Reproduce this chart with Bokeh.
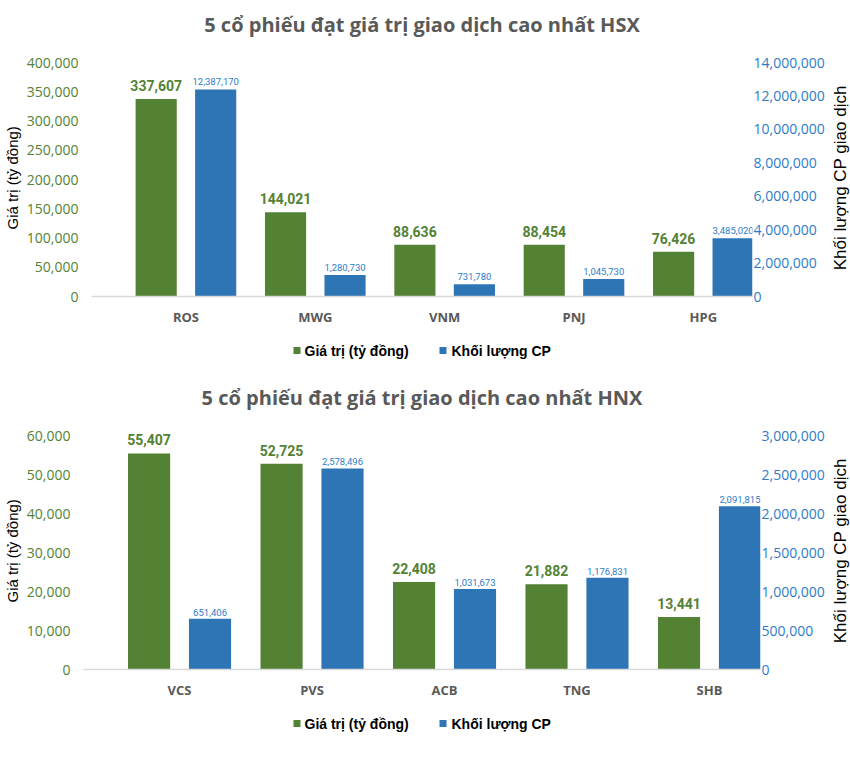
import math
from bokeh.plotting import figure
from bokeh.models import (Range1d, LinearAxis, FixedTicker, NumeralTickFormatter,
                          ColumnDataSource, LabelSet)
from bokeh.layouts import column, row
from bokeh.core.properties import value
from bokeh.embed import file_html
from bokeh.resources import INLINE

# ---- data ----
hsx_title = "5 cổ phiếu đạt giá trị giao dịch cao nhất HSX"
hsx_codes = ["ROS", "MWG", "VNM", "PNJ", "HPG"]
hsx_value = [337607, 144021, 88636, 88454, 76426]
hsx_volume = [12387170, 1280730, 731780, 1045730, 3485020]

hnx_title = "5 cổ phiếu đạt giá trị giao dịch cao nhất HNX"
hnx_codes = ["VCS", "PVS", "ACB", "TNG", "SHB"]
hnx_value = [55407, 52725, 22408, 21882, 13441]
hnx_volume = [651406, 2578496, 1031673, 1176831, 2091815]

series_names = ["Giá trị (tỷ đồng)", "Khối lượng CP"]
left_title = "Giá trị (tỷ đồng)"
right_title = "Khối lượng CP giao dịch"

GREEN = "#548235"
BLUE = "#2E75B6"
BLUE_TXT = "#2E7CC9"
GRAY = "#595959"
TICK_FONT = "Open Sans"
LBL_FONT = "Roboto"
AX_FONT = "Liberation Sans"

FRAME_H = 234        # pixel height between 0 and the top tick
LT_W, RT_W = 22, 22  # side title strips
TOTAL_W = 850


def bare(width, height):
    q = figure(width=width, height=height, output_backend="svg", toolbar_location=None,
               x_range=Range1d(0, width), y_range=Range1d(0, height), min_border=0,
               x_axis_location=None, y_axis_location=None)
    q.outline_line_color = None
    q.xgrid.visible = False
    q.ygrid.visible = False
    return q


def vtitle(width, height, cx, cy, txt, size):
    q = bare(width, height)
    q.text(x=[cx], y=[cy], text=[txt], angle=math.pi / 2, text_align="center",
           text_baseline="middle", text_font=value(AX_FONT), text_font_size=size,
           text_color="#000000")
    return q


def make_chart(title, codes, vals, vols, ymax, ystep, y2max, y2step,
               width, height, border_left, border_right, frame_top, pad, frame_bottom_gap,
               tick_standoff, green_off, blue_off, xr):
    idx = list(range(len(codes)))
    src = ColumnDataSource(dict(
        xg=[i - 0.23 for i in idx], xb=[i + 0.23 for i in idx],
        val=vals, vol=vols,
        val_txt=[f"{v:,}" for v in vals], vol_txt=[f"{v:,}" for v in vols]))

    frame_h = FRAME_H + pad
    p = figure(width=width, height=height, output_backend="svg", toolbar_location=None,
               x_range=Range1d(*xr), y_range=Range1d(0, ymax * frame_h / FRAME_H),
               min_border_left=border_left, min_border_right=border_right,
               min_border_top=frame_top - pad, min_border_bottom=frame_bottom_gap,
               y_axis_location=None, x_axis_location=None)
    p.outline_line_color = None
    p.xgrid.visible = False
    p.ygrid.visible = False
    p.extra_y_ranges = {"vol": Range1d(0, y2max * frame_h / FRAME_H)}

    p.title.text = title
    p.title.align = "center"
    p.title.text_font = TICK_FONT
    p.title.text_font_size = "20px"
    p.title.text_font_style = "bold"
    p.title.text_color = GRAY

    p.vbar(x="xg", top="val", width=0.318, source=src, fill_color=GREEN, line_color=None)
    p.vbar(x="xb", top="vol", width=0.318, source=src, fill_color=BLUE, line_color=None,
           y_range_name="vol")

    ya = LinearAxis(ticker=FixedTicker(ticks=list(range(0, ymax + 1, ystep))),
                    formatter=NumeralTickFormatter(format="0,0"),
                    major_label_text_font=TICK_FONT, major_label_text_font_size="14px",
                    major_label_text_color=GREEN, major_label_standoff=tick_standoff,
                    major_tick_out=0, major_tick_in=0,
                    axis_line_color=None, major_tick_line_color=None, minor_tick_line_color=None)
    p.add_layout(ya, "left")

    ya2 = LinearAxis(y_range_name="vol",
                     ticker=FixedTicker(ticks=list(range(0, y2max + 1, y2step))),
                     formatter=NumeralTickFormatter(format="0,0"),
                     major_label_text_font=TICK_FONT, major_label_text_font_size="14px",
                     major_label_text_color=BLUE_TXT, major_label_standoff=1,
                     major_tick_out=0, major_tick_in=0,
                     axis_line_color=None, major_tick_line_color=None, minor_tick_line_color=None)
    p.add_layout(ya2, "right")

    xa = LinearAxis(ticker=FixedTicker(ticks=idx),
                    major_label_overrides={i: c for i, c in zip(idx, codes)},
                    major_label_text_font=TICK_FONT, major_label_text_font_size="13px",
                    major_label_text_font_style="bold", major_label_text_color=GRAY,
                    major_label_standoff=11, major_tick_out=0, major_tick_in=0,
                    axis_line_color="#D9D9D9", axis_line_width=1.5,
                    major_tick_line_color=None, minor_tick_line_color=None)
    p.add_layout(xa, "below")

    p.add_layout(LabelSet(x="xg", y="val", text="val_txt", source=src, text_align="center",
                          text_baseline="bottom", y_offset=green_off, text_font=value(LBL_FONT),
                          text_font_size="14px", text_font_style="bold", text_color=GREEN))
    p.add_layout(LabelSet(x="xb", y="vol", text="vol_txt", source=src, text_align="center",
                          text_baseline="bottom", y_offset=blue_off, y_range_name="vol",
                          text_font=value(LBL_FONT), text_font_size="9.5px",
                          text_color=BLUE_TXT))

    # frame-centre height (from the bottom of the figure) for the side titles
    cy = frame_bottom_gap + FRAME_H / 2
    lt = vtitle(LT_W, height, 12, cy, left_title, "15px")
    rt = vtitle(RT_W, height, 12, cy, right_title, "17px")
    return row(lt, p, rt)


def make_legend(height, cy):
    q = bare(TOTAL_W, height)
    q.scatter(x=[296.5, 442.5], y=[cy, cy], marker="square", size=7,
              fill_color=[GREEN, BLUE], line_color=None)
    q.text(x=[304, 451], y=[cy, cy], text=series_names, text_baseline="middle",
           text_align="left", text_font=value(AX_FONT), text_font_size="14px",
           text_font_style="bold", text_color="#000000")
    return q


def separator(height):
    q = bare(TOTAL_W, height)
    q.background_fill_color = "#E3E3E3"
    q.border_fill_color = "#E3E3E3"
    return q


CHART_W = TOTAL_W - LT_W - RT_W
top = make_chart(hsx_title, hsx_codes, hsx_value, hsx_volume, 400000, 50000, 14000000, 2000000,
                 CHART_W, 336, 69, 76, 62, 20, 40, 13, 8, 4, (-0.73, 4.38))
l1 = make_legend(35, 21)
sep = separator(2)
bottom = make_chart(hnx_title, hnx_codes, hnx_value, hnx_volume, 60000, 10000, 3000000, 500000,
                    CHART_W, 336, 61, 68, 62, 20, 40, 13, 8, 3, (-0.725, 4.385))
l2 = make_legend(62, 48)

layout = column(top, l1, sep, bottom, l2)
open("out.html", "w").write(file_html(layout, INLINE))
